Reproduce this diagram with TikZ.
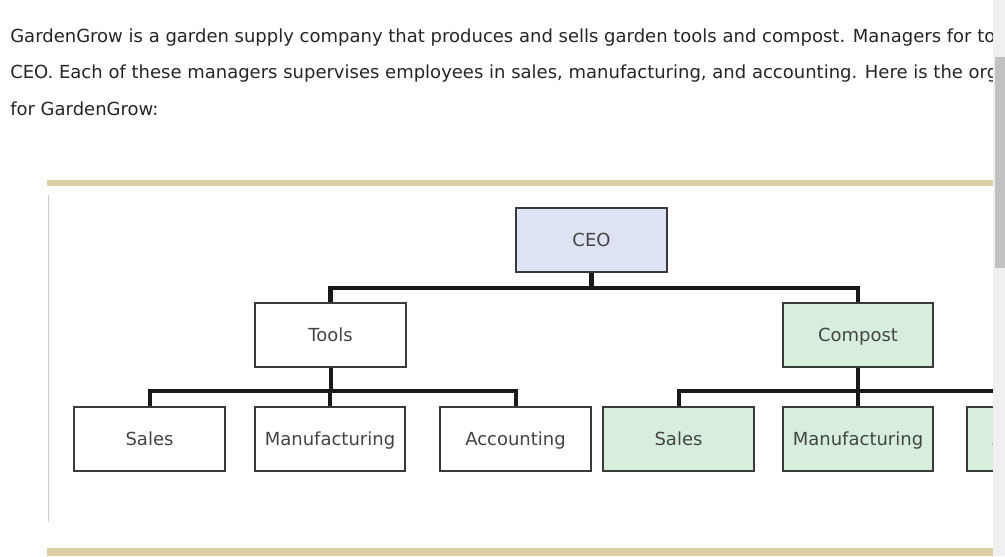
\documentclass[tikz,border=0pt]{standalone}
\usepackage{fontspec}
\setmainfont{DejaVu Sans}
\usetikzlibrary{positioning}
\definecolor{goldbar}{HTML}{DBCFA3}
\definecolor{ceoblue}{HTML}{DDE3F3}
\definecolor{compgreen}{HTML}{D8EEDC}
\definecolor{boxline}{HTML}{3A3A3A}
\definecolor{boxtext}{HTML}{444444}
\definecolor{track}{HTML}{F0F0F0}
\definecolor{thumb}{HTML}{C1C1C1}

\begin{document}
\begin{tikzpicture}[x=0.75pt, y=-0.75pt,
    unit/.style={
      draw=boxline, line width=1.5pt, fill=white, text=boxtext,
      minimum width=113pt, minimum height=48pt, inner sep=0pt,
      text height=9.7pt, text depth=0pt,
      font=\fontsize{13.5}{16}\selectfont
    },
    ceobox/.style={unit, fill=ceoblue},
    compbox/.style={unit, fill=compgreen},
    conn/.style={line width=3pt, draw=black!90},
    para/.style={
      anchor=base west, inner sep=0pt, text=black!85,
      font=\fontsize{13.5}{16}\selectfont
    },
  ]
    \useasboundingbox[fill=white] (0,0) rectangle (1005,556);

    % frame of the chart
    \fill[goldbar] (47,180) rectangle (993,186);
    \fill[goldbar] (47,548) rectangle (993,556);
    \draw[black!20, line width=1.2pt] (48.5,195) -- (48.5,522);

    % intro text
    \node[para] (line1) at (10,43) {GardenGrow is a garden supply company that produces and sells garden tools and compost. Managers for to};
    \node[para] (line2) at (10,79) {CEO. Each of these managers supervises employees in sales, manufacturing, and accounting. Here is the org};
    \node[para] (line3) at (10,116) {for GardenGrow:};

    % chart
    \node[ceobox] (ceo) at (591.5,240) {CEO};
    \node[unit] (tools) at (330.5,335) {Tools};
    \node[compbox] (compost) at (858,335) {Compost};

    \node[unit] (tsales) at (149.5,439) {Sales};
    \node[unit] (tmanuf) at (330,439) {Manufacturing};
    \node[unit] (tacct) at (515.5,439) {Accounting};
    \node[compbox] (csales) at (678.5,439) {Sales};
    \node[compbox] (cmanuf) at (858,439) {Manufacturing};
    \node[compbox] (cacct) at (1042.5,439) {Accounting};

    \draw[conn, line width=3.5pt] (ceo.south) -- ++(0,15) -| (tools.north);
    \draw[conn, line width=3.5pt] (ceo.south) -- ++(0,15) -| (compost.north);
    \foreach \k in {sales,manuf,acct} {
      \draw[conn] (tools.south) -- ++(0,23) -| (t\k.north);
      \draw[conn] (compost.south) -- ++(0,23) -| (c\k.north);
    }

    % scroll bar
    \fill[track] (993,0) rectangle (1005,556);
    \fill[thumb] (995,57) rectangle (1005,268);
  \end{tikzpicture}
\end{document}
